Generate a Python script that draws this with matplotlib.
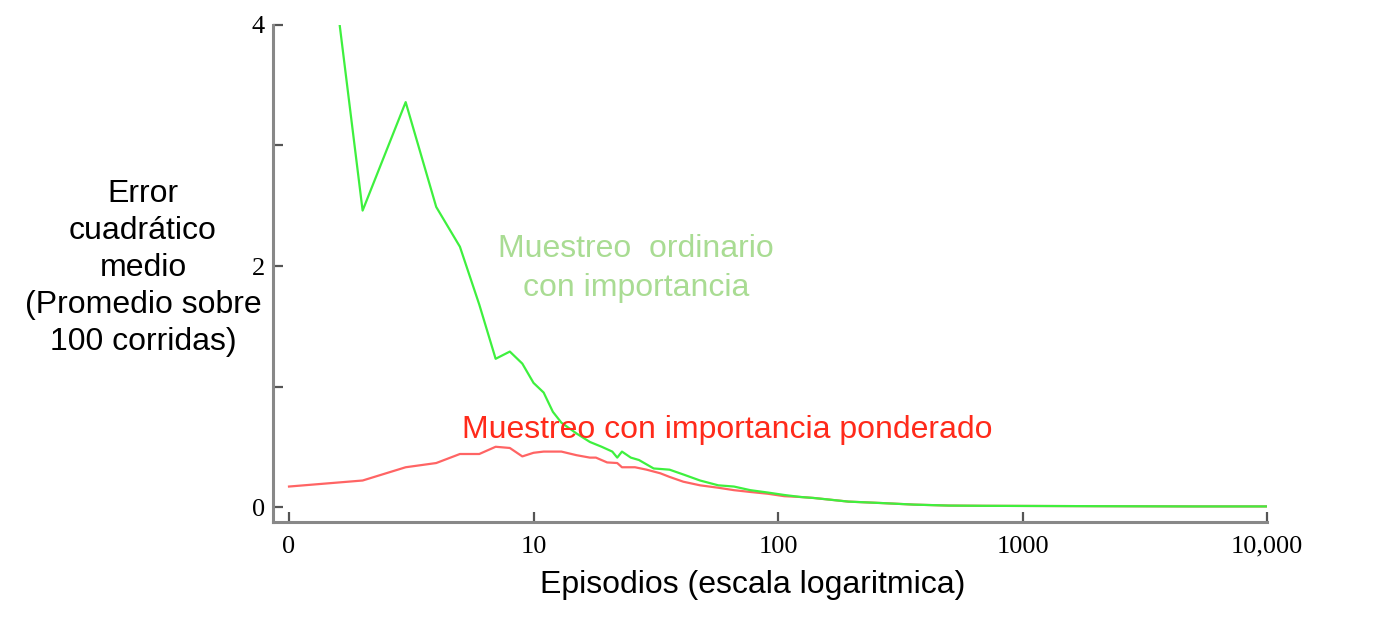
import numpy as np
import matplotlib
matplotlib.use("Agg")
import matplotlib.pyplot as plt
from matplotlib.ticker import NullLocator

# ordinary importance sampling (green)
green_ep = [1, 2, 3, 4, 5, 6, 7, 8, 9, 10, 11, 12, 13, 15, 17, 19, 21, 22, 23, 25,
            27, 31, 36, 41, 48, 57, 66, 77, 91, 106, 124, 140, 194, 265, 360, 500,
            700, 1000, 2000, 5000, 10000]
green_mse = [7.4, 2.46, 3.36, 2.49, 2.16, 1.68, 1.23, 1.29, 1.19, 1.03, 0.95, 0.79,
             0.70, 0.61, 0.54, 0.50, 0.46, 0.41, 0.46, 0.41, 0.39, 0.32, 0.31, 0.27,
             0.22, 0.18, 0.17, 0.14, 0.12, 0.10, 0.083, 0.075, 0.045, 0.033, 0.02,
             0.012, 0.01, 0.009, 0.007, 0.005, 0.005]

# weighted importance sampling (red)
red_ep = [1, 2, 3, 4, 5, 6, 7, 8, 9, 10, 11, 13, 15, 17, 18, 20, 22, 23, 26, 29,
          33, 36, 41, 48, 57, 66, 77, 91, 106, 124, 140, 194, 265, 360, 500, 700,
          1000, 2000, 5000, 10000]
red_mse = [0.17, 0.22, 0.33, 0.365, 0.44, 0.44, 0.50, 0.49, 0.42, 0.45, 0.46, 0.46,
           0.43, 0.41, 0.41, 0.37, 0.365, 0.33, 0.33, 0.31, 0.28, 0.25, 0.21, 0.18,
           0.16, 0.14, 0.125, 0.11, 0.09, 0.083, 0.075, 0.045, 0.033, 0.02, 0.012,
           0.01, 0.009, 0.007, 0.005, 0.005]

xticks = [1, 10, 100, 1000, 10000]
xticklabels = ["0", "10", "100", "1000", "10,000"]
yticks = [0, 2, 4]

sans = ["Liberation Sans", "DejaVu Sans"]
serif = ["Liberation Serif", "DejaVu Serif"]

fig = plt.figure(figsize=(13.76, 6.44), dpi=100)
ax = fig.add_axes([0.1984, 0.1894, 0.7224, 0.7718])

ax.plot(red_ep, red_mse, color="#ff6464", lw=1.6)
ax.plot(green_ep, green_mse, color="#3ef03e", lw=1.6)

ax.set_xscale("log")
ax.set_xlim(0.86, 10000)
ax.set_ylim(-0.1245, 4)

ax.set_xticks(xticks, xticklabels)
ax.xaxis.set_minor_locator(NullLocator())
ax.set_yticks(yticks)
ax.set_yticks([1, 3], minor=True)

for s in ["top", "right"]:
    ax.spines[s].set_visible(False)
for s in ["left", "bottom"]:
    ax.spines[s].set_color("#888888")
    ax.spines[s].set_linewidth(2.2)

ax.tick_params(which="both", direction="in", length=7, width=1.6, color="#555555")
ax.tick_params(axis="x", labelsize=19, labelfontfamily=serif, pad=10)
ax.tick_params(axis="y", labelsize=19, labelfontfamily=serif, pad=6)

ax.text(26.3, 1.98, "Muestreo  ordinario\ncon importancia", color="#a9dc93",
        fontsize=23, family=sans, ha="center", va="center", linespacing=1.38)
ax.text(5.1, 0.64, "Muestreo con importancia ponderado", color="#ff2a1a",
        fontsize=23, family=sans, ha="left", va="center")

ax.set_ylabel("Error\ncuadrático\nmedio\n(Promedio sobre\n100 corridas)",
              fontsize=23, family=sans, rotation=0, ha="center", va="center",
              linespacing=1.31)
ax.yaxis.set_label_coords(-0.1308, 0.511)
ax.set_xlabel("Episodios (escala logaritmica)", fontsize=23, family=sans)
ax.xaxis.set_label_coords(0.483, -0.127)
ax.xaxis.label.set_va("center")

fig.savefig("out.png", dpi=100, facecolor="white")
